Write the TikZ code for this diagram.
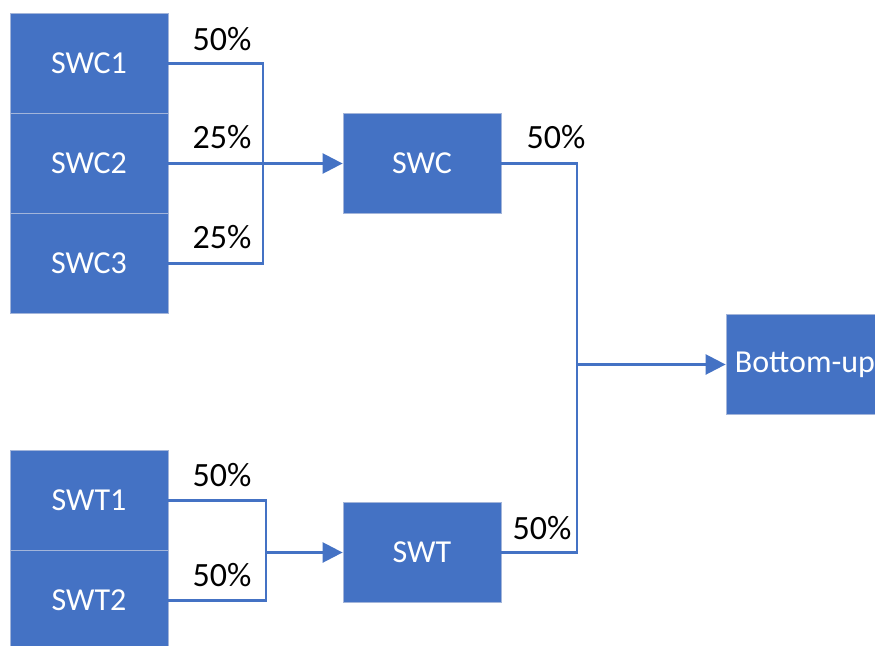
\documentclass[tikz,border=0pt]{standalone}
\usepackage{fontspec}
\setmainfont{Carlito}
\usetikzlibrary{calc,arrows.meta}
\definecolor{boxblue}{HTML}{4472C4}
\definecolor{boxedge}{HTML}{A3B5DA}
\tikzset{
block/.style={rectangle,fill=boxblue,draw=boxedge,line width=0.6pt,
  minimum width=118.5pt,minimum height=75pt,inner sep=0pt,
  text=white,font=\fontsize{24}{28}\selectfont},
link/.style={draw=boxblue,line width=1.9pt},
flow/.style={link,-{Triangle[length=15pt,width=15pt]}},
pct/.style={anchor=base west,inner sep=0pt,font=\fontsize{25.5}{30}\selectfont},
}

\begin{document}
\begin{tikzpicture}[x=0.75pt,y=-0.75pt]
\useasboundingbox (0,0) rectangle (875,646);
\clip (0,0) rectangle (875,646);
% single scores
\node[block] (swc1) at (89,63.5) {SWC1};
\node[block] (swc2) at (89,163.5) {SWC2};
\node[block] (swc3) at (89,263.5) {SWC3};
\node[block] (swt1) at (89,500.5) {SWT1};
\node[block] (swt2) at (89,600.5) {SWT2};
% aggregates
\node[block] (swc) at (422,163.5) {SWC};
\node[block] (swt) at (422,552.5) {SWT};
\node[block] (bu) at (805,364.5) {Bottom-up};
% joins
\coordinate (cj) at (263,163.5);
\coordinate (tj) at (266,552.5);
\coordinate (rj) at (577,364.5);
\draw[link] (swc1.east) -| (cj) |- (swc3.east);
\draw[flow] (swc2.east) -- (swc.west);
\draw[link] (swt1.east) -| (tj) |- (swt2.east);
\draw[flow] (tj) -- (swt.west);
\draw[link] (swc.east) -| (rj) |- (swt.east);
\draw[flow] (rj) -- (bu.west);
% weights
\node[pct] (w1) at ($(swc1.east)+(24,-13)$) {50\%};
\node[pct] (w2) at ($(swc2.east)+(24,-15)$) {25\%};
\node[pct] (w3) at ($(swc3.east)+(24,-15)$) {25\%};
\node[pct] (w4) at ($(swt1.east)+(24,-14)$) {50\%};
\node[pct] (w5) at ($(swt2.east)+(24,-14)$) {50\%};
\node[pct] (w6) at ($(swc.east)+(25,-15)$) {50\%};
\node[pct] (w7) at ($(swt.east)+(11,-13)$) {50\%};
\end{tikzpicture}
\end{document}
